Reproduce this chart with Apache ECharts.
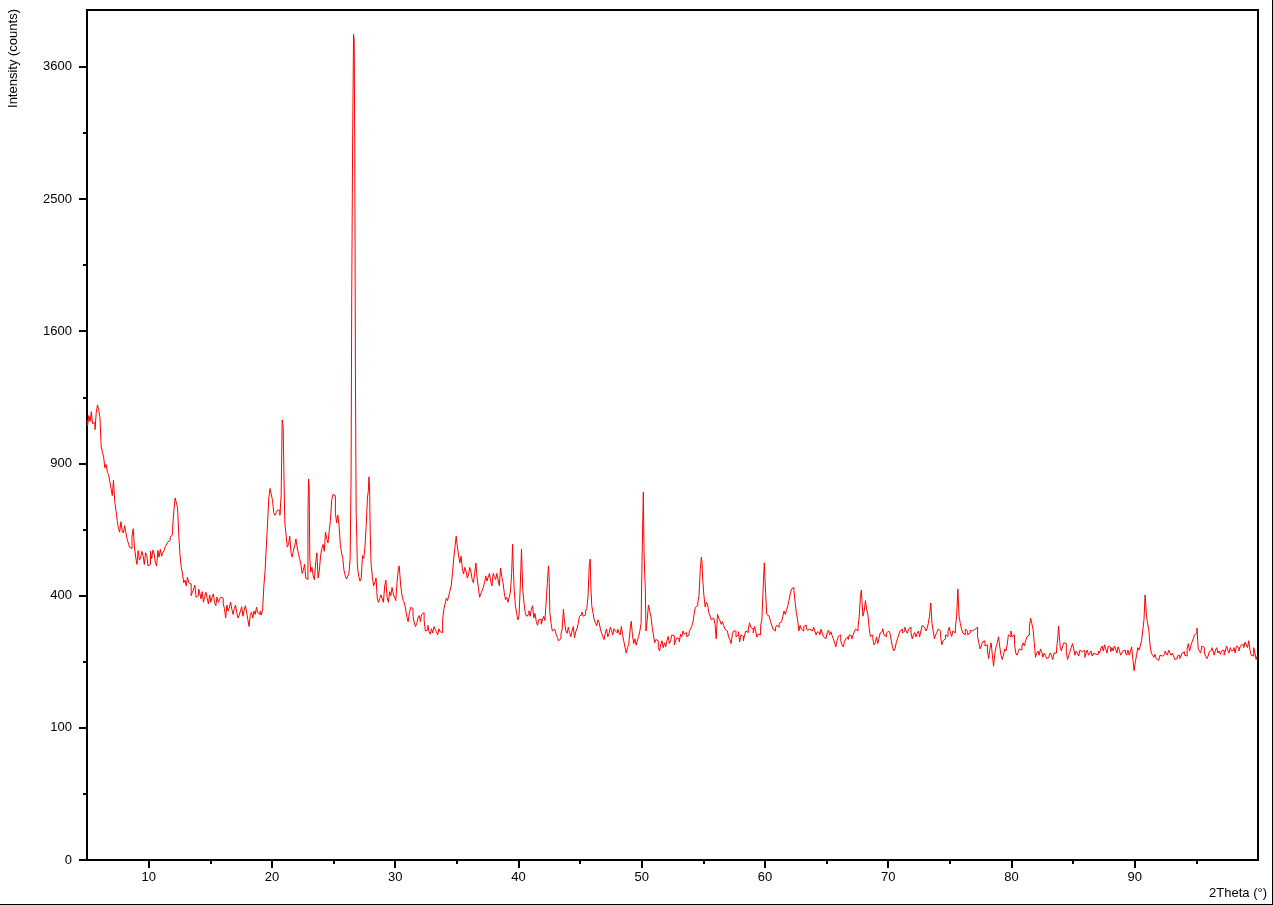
<!DOCTYPE html>
<html>
<head>
<meta charset="utf-8">
<script src="https://cdn.jsdelivr.net/npm/echarts@6/dist/echarts.min.js"></script>
<style>
html,body{margin:0;padding:0;background:#fff;}
#chart{width:1273px;height:905px;box-sizing:border-box;border-right:1px solid #000;border-bottom:1px solid #000;}
</style>
</head>
<body>
<div id="chart"></div>
<script>
// Scan: 2Theta from 5.0 to 100.0, counts.
// countsEven at 5.0, 5.2, 5.4 ... ; countsOdd at 5.1, 5.3, 5.5 ...
const START_ANGLE = 5.0;
const STEP = 0.2;
const countsEven = [
  1108, 1130, 1150, 1095, 1145, 1160, 980, 930, 895, 850,
  790, 825, 700, 630, 655, 612, 615, 575, 555, 628,
  525, 548, 522, 530, 540, 495, 545, 550, 505, 548,
  552, 540, 562, 578, 598, 635, 750, 710, 530, 468,
  448, 458, 436, 410, 432, 400, 408, 412, 398, 392,
  402, 396, 380, 396, 378, 392, 362, 372, 365, 360,
  362, 350, 343, 367, 358, 352, 312, 352, 355, 366,
  345, 343, 430, 562, 750, 792, 690, 690, 700, 760,
  885, 605, 570, 540, 548, 590, 538, 500, 480, 455,
  830, 475, 462, 505, 455, 530, 570, 615, 575, 660,
  765, 690, 680, 570, 520, 462, 450, 520, 2950, 1400,
  480, 445, 530, 560, 750, 615, 460, 440, 390, 392,
  400, 430, 393, 412, 425, 395, 440, 470, 402, 378,
  338, 348, 362, 322, 320, 342, 345, 328, 303, 298,
  306, 312, 298, 306, 296, 360, 392, 400, 432, 520,
  600, 530, 528, 468, 478, 465, 475, 440, 505, 425,
  405, 425, 462, 458, 445, 470, 450, 450, 488, 440,
  388, 380, 410, 500, 372, 330, 430, 420, 350, 345,
  340, 370, 348, 315, 332, 330, 328, 440, 350, 300,
  310, 284, 280, 305, 322, 294, 296, 300, 283, 306,
  340, 352, 344, 362, 500, 370, 330, 314, 322, 294,
  278, 305, 293, 302, 306, 295, 296, 312, 274, 245,
  266, 326, 268, 264, 286, 320, 560, 300, 372, 340,
  290, 278, 258, 266, 258, 260, 286, 275, 287, 274,
  280, 292, 300, 296, 290, 305, 322, 365, 378, 480,
  450, 366, 372, 340, 335, 318, 346, 328, 325, 305,
  296, 278, 290, 300, 290, 272, 286, 290, 296, 322,
  305, 312, 284, 290, 330, 505, 345, 335, 316, 300,
  315, 320, 330, 355, 356, 385, 420, 415, 350, 300,
  305, 312, 308, 305, 300, 310, 290, 296, 305, 285,
  285, 302, 298, 280, 260, 286, 275, 260, 280, 278,
  286, 290, 305, 310, 400, 340, 385, 345, 286, 280,
  270, 268, 295, 306, 285, 300, 294, 260, 255, 280,
  300, 295, 310, 294, 310, 280, 296, 294, 285, 315,
  305, 306, 340, 320, 280, 296, 300, 265, 280, 286,
  310, 286, 295, 340, 340, 305, 290, 300, 295, 300,
  305, 310, 270, 262, 275, 265, 232, 270, 215, 260,
  285, 240, 240, 250, 290, 300, 290, 245, 248, 252,
  270, 275, 290, 335, 305, 235, 250, 255, 235, 240,
  235, 245, 230, 245, 280, 260, 262, 268, 230, 248,
  268, 240, 245, 252, 245, 235, 252, 245, 238, 242,
  242, 245, 262, 265, 245, 258, 258, 262, 245, 252,
  245, 252, 240, 240, 260, 205, 240, 252, 275, 330,
  340, 300, 245, 235, 232, 232, 238, 242, 245, 252,
  240, 238, 232, 240, 238, 248, 238, 268, 262, 280,
  295, 255, 245, 258, 238, 238, 252, 250, 252, 245,
  242, 252, 250, 252, 258, 252, 245, 258, 260, 265,
  272, 258, 252, 238, 245, 240
];
const countsOdd = [
  1080, 1100, 1090, 1060, 1185, 1120, 950, 880, 860, 820,
  760, 735, 660, 615, 622, 640, 590, 560, 600, 560,
  500, 515, 545, 500, 530, 500, 520, 535, 495, 525,
  528, 548, 560, 585, 605, 700, 730, 600, 490, 440,
  430, 440, 400, 420, 395, 420, 390, 380, 410, 375,
  380, 405, 370, 380, 395, 375, 335, 355, 380, 345,
  372, 335, 355, 340, 370, 330, 345, 335, 345, 350,
  355, 360, 480, 650, 790, 740, 680, 700, 680, 1090,
  650, 560, 600, 525, 565, 560, 520, 470, 500, 450,
  520, 490, 450, 540, 480, 555, 545, 590, 620, 740,
  760, 650, 640, 540, 480, 452, 470, 1800, 3850, 600,
  460, 455, 520, 640, 840, 500, 430, 455, 380, 402,
  380, 448, 380, 400, 405, 385, 480, 430, 385, 360,
  325, 365, 340, 312, 335, 325, 350, 300, 315, 292,
  295, 305, 290, 298, 330, 375, 385, 415, 470, 560,
  560, 505, 485, 490, 455, 490, 450, 470, 455, 395,
  415, 440, 445, 470, 430, 460, 470, 430, 460, 410,
  395, 395, 470, 420, 350, 340, 553, 380, 340, 355,
  360, 335, 325, 330, 318, 340, 380, 460, 320, 305,
  292, 275, 292, 360, 300, 310, 285, 312, 298, 320,
  345, 340, 355, 400, 430, 350, 322, 330, 305, 285,
  295, 285, 310, 290, 300, 305, 290, 290, 258, 258,
  300, 290, 280, 275, 300, 570, 430, 330, 355, 310,
  270, 275, 250, 275, 270, 275, 268, 290, 265, 282,
  272, 285, 292, 285, 298, 312, 345, 370, 400, 510,
  400, 380, 350, 330, 340, 280, 335, 318, 315, 300,
  285, 268, 300, 285, 298, 290, 275, 300, 305, 310,
  295, 300, 292, 315, 420, 410, 340, 325, 305, 308,
  310, 325, 340, 345, 370, 405, 425, 380, 330, 315,
  300, 316, 302, 310, 295, 300, 298, 290, 295, 280,
  295, 290, 288, 270, 275, 290, 265, 272, 285, 290,
  280, 298, 300, 340, 380, 355, 360, 310, 290, 265,
  285, 280, 300, 290, 295, 305, 275, 250, 270, 290,
  305, 300, 300, 305, 295, 290, 285, 300, 300, 310,
  300, 320, 378, 300, 290, 305, 285, 275, 290, 300,
  295, 300, 310, 420, 320, 295, 305, 290, 302, 295,
  300, 285, 255, 272, 262, 250, 255, 240, 245, 270,
  260, 230, 255, 265, 285, 285, 265, 240, 255, 262,
  262, 285, 310, 320, 270, 245, 240, 248, 245, 232,
  240, 238, 245, 252, 290, 250, 270, 248, 240, 258,
  255, 250, 238, 248, 252, 245, 240, 250, 245, 240,
  250, 255, 250, 255, 262, 248, 250, 255, 260, 240,
  250, 245, 252, 248, 230, 225, 258, 262, 300, 375,
  320, 262, 240, 242, 228, 240, 235, 250, 240, 245,
  245, 230, 238, 232, 245, 240, 255, 250, 272, 290,
  308, 250, 262, 245, 232, 248, 258, 240, 258, 250,
  250, 240, 262, 245, 250, 258, 262, 250, 265, 258,
  265, 275, 240, 258, 230
];
// Extra points on the sharp reflections (angle, counts)
const peakAngles = [20.87, 20.93, 22.95, 23.05, 26.45, 26.65, 26.75, 26.87, 26.95,
  27.85, 27.95, 30.35, 39.55, 42.48, 45.85, 50.17, 50.28, 54.88, 67.85, 83.85, 90.88];
const peakCounts = [1108, 1075, 690, 790, 840, 3900, 2900, 690, 505,
  780, 795, 495, 570, 495, 518, 775, 470, 525, 417, 313, 402];

const xMajorTicks = [10, 20, 30, 40, 50, 60, 70, 80, 90];
const xMinorTicks = [15, 25, 35, 45, 55, 65, 75, 85, 95];
const yMajorTicks = [0, 100, 400, 900, 1600, 2500, 3600];
const yMinorTicks = [25, 225, 625, 1225, 2025, 3025];
const Y_MAX_COUNTS = 4134;

// build table
const points = [];
countsEven.forEach((c, i) => points.push([+(START_ANGLE + i * STEP).toFixed(2), c]));
countsOdd.forEach((c, i) => points.push([+(START_ANGLE + STEP / 2 + i * STEP).toFixed(2), c]));
peakAngles.forEach((a, i) => points.push([a, peakCounts[i]]));
points.sort((p, q) => p[0] - q[0]);
const seriesData = points.map(p => [p[0], Math.sqrt(p[1])]);

const FONT = '"Liberation Sans", Arial, sans-serif';
const black = '#000';

const chart = echarts.init(document.getElementById('chart'), null, {renderer: 'canvas'});
chart.setOption({
  animation: false,
  backgroundColor: '#fff',
  grid: {left: 87, right: 14, top: 10, bottom: 44, show: true, borderColor: black, borderWidth: 2, backgroundColor: 'transparent'},
  xAxis: [
    {
      type: 'value', min: 5, max: 100, position: 'bottom',
      axisLine: {show: true, onZero: false, lineStyle: {color: black, width: 2}},
      axisTick: {show: true, length: 8, customValues: xMajorTicks, lineStyle: {color: black, width: 2}},
      axisLabel: {customValues: xMajorTicks, color: black, fontSize: 13, fontFamily: FONT, margin: 11},
      splitLine: {show: false}
    },
    {
      type: 'value', min: 5, max: 100, position: 'bottom', offset: 0,
      axisLine: {show: false, onZero: false},
      axisTick: {show: true, length: 4, customValues: xMinorTicks, lineStyle: {color: black, width: 2}},
      axisLabel: {show: false},
      splitLine: {show: false}
    }
  ],
  yAxis: [
    {
      type: 'value', min: 0, max: Math.sqrt(Y_MAX_COUNTS), position: 'left',
      axisLine: {show: true, onZero: false, lineStyle: {color: black, width: 2}},
      axisTick: {show: true, length: 8, customValues: yMajorTicks.map(Math.sqrt), lineStyle: {color: black, width: 2}},
      axisLabel: {customValues: yMajorTicks.map(Math.sqrt), formatter: v => String(Math.round(v * v)), color: black, fontSize: 13, fontFamily: FONT, margin: 15},
      splitLine: {show: false}
    },
    {
      type: 'value', min: 0, max: Math.sqrt(Y_MAX_COUNTS), position: 'left', offset: 0,
      axisLine: {show: false, onZero: false},
      axisTick: {show: true, length: 4, customValues: yMinorTicks.map(Math.sqrt), lineStyle: {color: black, width: 2}},
      axisLabel: {show: false},
      splitLine: {show: false}
    }
  ],
  graphic: [
    {type: 'text', x: 13, y: 9, rotation: Math.PI / 2,
      style: {text: 'Intensity (counts)', fill: black, font: '13px ' + FONT, align: 'right', verticalAlign: 'middle'}},
    {type: 'text', x: 1267, y: 893,
      style: {text: '2Theta (°)', fill: black, font: '13px ' + FONT, align: 'right', verticalAlign: 'middle'}}
  ],
  series: [{
    type: 'line', xAxisIndex: 0, yAxisIndex: 0,
    data: seriesData, showSymbol: false, symbol: 'none', step: 'middle',
    lineStyle: {color: '#ff0000', width: 1},
    clip: true
  }]
});
</script>
</body>
</html>
